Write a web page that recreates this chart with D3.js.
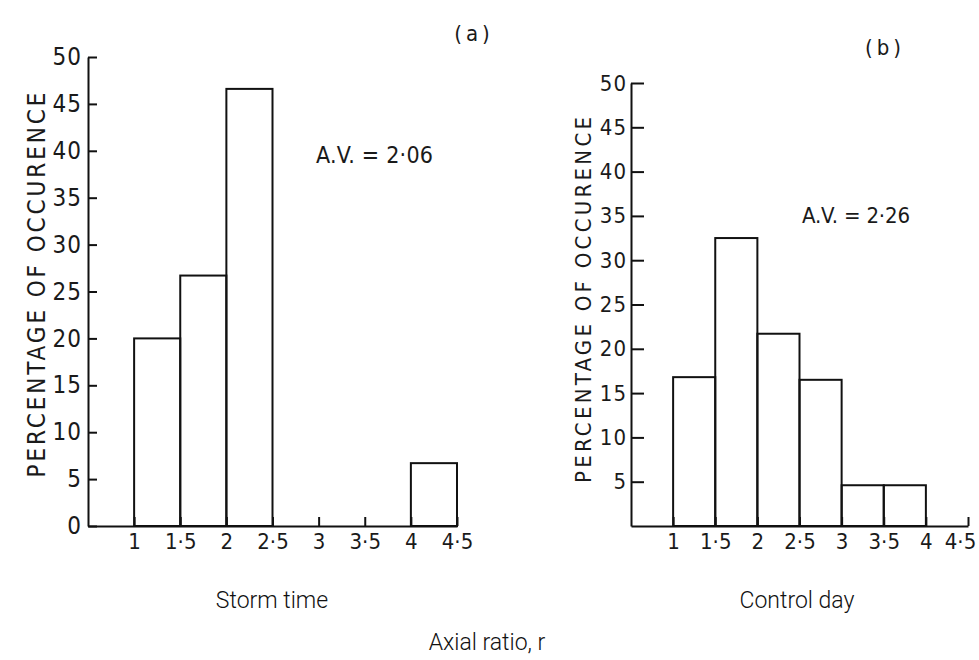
<!DOCTYPE html>
<html>
<head>
<meta charset="utf-8">
<script src="https://cdn.jsdelivr.net/npm/d3@7"></script>
<style>
  body { margin: 0; background: #fff; }
  .tick text, .lbl { font-family: "DejaVu Sans Condensed", "DejaVu Sans", sans-serif; fill: #1a1a1a; }
  .cap { font-family: Roboto, "Liberation Sans", sans-serif; font-weight: 300; fill: #111; }
</style>
</head>
<body>
<svg id="chart" width="979" height="660"></svg>
<script>
// bins of axial ratio (left edges + last right edge)
var binEdges = [1, 1.5, 2, 2.5, 3, 3.5, 4, 4.5];
// percentage of occurence per bin
var stormPct = [20, 26.7, 46.6, 0, 0, 0, 6.7];
var controlPct = [16.8, 32.5, 21.7, 16.5, 4.6, 4.6, 0];
var xTicks = [1, 1.5, 2, 2.5, 3, 3.5, 4, 4.5];
var yTicksA = [0, 5, 10, 15, 20, 25, 30, 35, 40, 45, 50];
var yTicksB = [5, 10, 15, 20, 25, 30, 35, 40, 45, 50];

var svg = d3.select("#chart");
var fmt = function(d) { return String(d).replace(".", "\u00b7"); };

function panel(opt) {
  var x = d3.scaleLinear().domain([0.5, 4.5]).range([opt.x0, opt.x1]);
  var y = d3.scaleLinear().domain([0, 50]).range([opt.y0, opt.y1]);
  var g = svg.append("g");

  var bins = opt.values.map(function(v, i) {
    return { lo: binEdges[i], hi: binEdges[i + 1], v: v };
  }).filter(function(d) { return d.v > 0; });

  g.selectAll("rect.bar")
    .data(bins)
    .enter().append("rect")
    .attr("class", "bar")
    .attr("x", function(d) { return x(d.lo); })
    .attr("y", function(d) { return y(d.v); })
    .attr("width", function(d) { return x(d.hi) - x(d.lo); })
    .attr("height", function(d) { return y(0) - y(d.v); })
    .attr("fill", "none")
    .attr("stroke", "#111")
    .attr("stroke-width", 2);

  var xa = g.append("g")
    .attr("transform", "translate(0," + y(0) + ")")
    .call(d3.axisBottom(x).tickValues(xTicks).tickFormat(fmt)
      .tickSizeInner(-9).tickSizeOuter(0).tickPadding(7));
  xa.selectAll("text").style("font-size", "22px");
  // last label of (b) sits at the page edge; keep it inside
  if (opt.lastShift) {
    xa.selectAll(".tick:last-of-type text").attr("dx", -opt.lastShift);
  }

  var ya = g.append("g")
    .attr("transform", "translate(" + x(0.5) + ",0)")
    .call(d3.axisLeft(y).tickValues(opt.yTicks).tickFormat(d3.format("d"))
      .tickSizeInner(-opt.tick).tickSizeOuter(0).tickPadding(opt.pad));
  ya.selectAll("text").style("font-size", opt.fs + "px").style("letter-spacing", "1px");

  g.selectAll(".domain, .tick line").attr("stroke", "#111").attr("stroke-width", 2);

  g.append("text").attr("class", "lbl")
    .attr("transform", "translate(" + opt.labX + "," + opt.labY + ") rotate(-90)")
    .attr("text-anchor", "middle")
    .attr("dy", "0.35em")
    .attr("textLength", opt.labLen)
    .attr("lengthAdjust", "spacing")
    .style("font-size", opt.labFs + "px")
    .text("PERCENTAGE OF OCCURENCE");

  g.append("text").attr("class", "lbl")
    .attr("x", opt.avX).attr("y", opt.avY)
    .attr("dy", "0.35em")
    .attr("textLength", opt.avLen)
    .attr("lengthAdjust", "spacing")
    .style("font-size", opt.avFs + "px")
    .text(opt.av);

  g.append("text").attr("class", "lbl")
    .attr("x", opt.tagX).attr("y", opt.tagY)
    .attr("text-anchor", "middle")
    .attr("dy", "0.35em")
    .style("font-size", "22px")
    .style("letter-spacing", "4px")
    .text(opt.tag);

  svg.append("text").attr("class", "cap")
    .attr("x", opt.capX).attr("y", 608)
    .attr("text-anchor", "middle")
    .style("font-size", "23px")
    .text(opt.caption);
}

panel({ x0: 88, x1: 457, y0: 526, y1: 57, values: stormPct, yTicks: yTicksA,
  tick: 9, pad: 6, fs: 24, labX: 37, labY: 285, labLen: 385, labFs: 24,
  av: "A.V. = 2\u00b706", avX: 316, avY: 155, avLen: 117, avFs: 23,
  tag: "(a)", tagX: 474, tagY: 33, capX: 272, caption: "Storm time" });

panel({ x0: 631, x1: 968, y0: 526, y1: 83, values: controlPct, yTicks: yTicksB,
  tick: 13, pad: 4, fs: 22, labX: 583, labY: 300, labLen: 366, labFs: 22,
  av: "A.V. = 2\u00b726", avX: 802, avY: 215, avLen: 108, avFs: 22,
  tag: "(b)", tagX: 885, tagY: 47, capX: 797, caption: "Control day",
  lastShift: 8 });

svg.append("text").attr("class", "cap")
  .attr("x", 487).attr("y", 650)
  .attr("text-anchor", "middle")
  .style("font-size", "23px")
  .text("Axial ratio, r");
</script>
</body>
</html>
